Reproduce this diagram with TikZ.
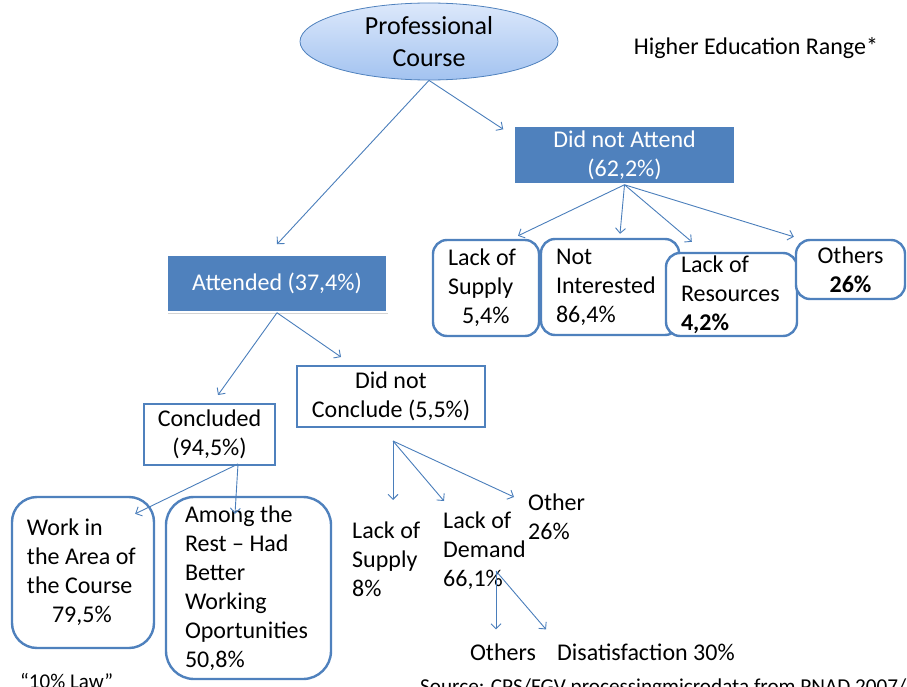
\documentclass[tikz,border=0pt]{standalone}
\usepackage{fontspec}
\setmainfont{Carlito}
\usepackage{tikz}
\usetikzlibrary{positioning,shapes,shadows,arrows.meta}

\definecolor{officeblue}{HTML}{4F81BD}
\definecolor{lineblue}{HTML}{4A7EBB}
\definecolor{ovaltop}{HTML}{DCE8FB}
\definecolor{ovalbottom}{HTML}{A3C3F0}

\begin{document}
\begin{tikzpicture}[
		x=1pt, y=-1pt,
		course/.style={ellipse, draw=officeblue, thick, top color=ovaltop, bottom color=ovalbottom, minimum width=258pt, minimum height=77pt, inner sep=0pt, align=center, font=\fontsize{26}{32}\selectfont},
		filled/.style={rectangle, draw=white, line width=1.5pt, fill=officeblue, text=white, align=center, drop shadow={shadow xshift=1pt, shadow yshift=-1.5pt, opacity=0.35}, font=\fontsize{24}{29}\selectfont},
		plain/.style={rectangle, draw=officeblue, line width=2pt, fill=white, align=center, font=\fontsize{24}{29}\selectfont},
		reason/.style={rectangle, rounded corners=14pt, draw=officeblue, line width=2.4pt, fill=white, align=flush left, inner xsep=15pt, inner ysep=0pt, font=\fontsize{24}{29}\selectfont},
		loose/.style={align=left, inner sep=0pt, font=\fontsize{24}{29}\selectfont},
		link/.style={draw=lineblue, line width=0.9pt, -{Straight Barb[length=5pt,width=10pt]}},
		]
		\useasboundingbox (0,0) rectangle (907,687);
		\clip (0,0) rectangle (907,687);

		%Main Nodes
		\node[course]	(course)	at (429,41.5)	{Professional\\Course};
		\node[loose]	(range)		at (756,48)		{Higher Education Range*};
		\node[filled, minimum width=221pt, minimum height=58pt]	(not_attend)	at (624.5,155)	{Did not Attend\\(62,2\%)};
		\node[filled, minimum width=220pt, minimum height=57pt]	(attended)		at (277,283.5)	{Attended (37,4\%)};

		%Main Lines
		\draw[link]	(course.south)	--	([yshift=10pt]attended.north);
		\draw[link]	(course.south)	--	([xshift=-10pt, yshift=-4pt]not_attend.north west);

		%Did not Attend
		\node[reason, minimum width=106pt, minimum height=96pt, text width=76pt]	(na_supply)		at (486,288)	{Lack of\\Supply\\\hspace*{14pt}5,4\%};
		\node[reason, minimum width=138pt, minimum height=96pt, text width=108pt]	(na_interest)	at (610,287)	{Not\\Interested\\86,4\%};
		\node[reason, minimum width=131pt, minimum height=83pt, text width=101pt]	(na_resources)	at (731.5,294.5)	{Lack of\\Resources\\\textbf{4,2\%}};
		\node[reason, align=center, minimum width=109pt, minimum height=59pt, text width=79pt]	(na_others)	at (850.5,269.5)	{Others\\\textbf{26\%}};
		\draw[link]	(not_attend.south)	--	([xshift=32pt, yshift=3pt]na_supply.north);
		\draw[link]	(not_attend.south)	--	([xshift=10pt, yshift=4pt]na_interest.north);
		\draw[link]	(not_attend.south)	--	([xshift=27pt, yshift=10pt]na_resources.north west);
		\draw[link]	(not_attend.south)	--	([xshift=-1pt, yshift=2pt]na_others.north west);

		%Attended
		\node[plain, minimum width=131pt, minimum height=61pt]	(concluded)		at (209.5,434.5)	{Concluded\\(94,5\%)};
		\node[plain, minimum width=188pt, minimum height=61pt]	(not_conclude)	at (391,396.5)		{Did not\\Conclude (5,5\%)};
		\draw[link]	(attended.south)	--	([xshift=8.5pt, yshift=8pt]concluded.north);
		\draw[link]	(attended.south)	--	([xshift=45pt, yshift=8pt]not_conclude.north west);

		%Concluded
		\node[reason, rounded corners=25pt, minimum width=142pt, minimum height=151pt, text width=112pt]	(work_area)	at (83,572.5)	{Work in\\the Area of\\the Course\\\hspace*{25pt}79,5\%};
		\node[reason, rounded corners=28pt, inner xsep=19pt, minimum width=165pt, minimum height=182pt, text width=127pt]	(among_rest)	at (248.5,588)	{Among the\\Rest -- Had\\Better\\Working\\Oportunities\\50,8\%};
		\coordinate	(concl_fork)	at ([xshift=28.5pt, yshift=2pt]concluded.south);
		\draw[link]	(concl_fork)	--	([xshift=-20pt, yshift=-18pt]work_area.north east);
		\draw[link]	(concl_fork)	--	([xshift=-13.5pt, yshift=-18pt]among_rest.north);

		%Did not Conclude
		\node[loose, anchor=west]	(nc_supply)		at (352,559.5)	{Lack of\\Supply\\8\%};
		\node[loose, anchor=west]	(nc_demand)		at (443,551)	{Lack of\\Demand\\66,1\%};
		\node[loose, anchor=west]	(nc_other)		at (528,517)	{Other\\26\%};
		\coordinate	(nc_fork)	at ([xshift=2pt, yshift=-13pt]not_conclude.south);
		\coordinate	(supply_tip)	at (393,500);
		\coordinate	(demand_tip)	at (444,501);
		\coordinate	(other_tip)		at (514,497);
		\draw[link]	(nc_fork)	--	(supply_tip);
		\draw[link]	(nc_fork)	--	(demand_tip);
		\draw[link]	(nc_fork)	--	(other_tip);

		%Lack of Demand
		\node[loose]				(dm_others)		at (503,652)	{Others};
		\node[loose, anchor=west]	(dm_dissat)		at (557,652)	{Disatisfaction 30\%};
		\coordinate	(dm_fork)	at (496,571);
		\draw[link]	(dm_fork)	--	([yshift=14pt]dm_others.north -| dm_fork);
		\draw[link]	(dm_fork)	--	([xshift=-11pt, yshift=14pt]dm_dissat.north west);

		%Notes
		\node[loose, anchor=base west, font=\fontsize{21}{25}\selectfont]	(law)		at (20,688)	{``10\% Law''};
		\node[loose, anchor=base west, font=\fontsize{21.2}{25}\selectfont]	(source)	at (420,693)	{Source: CPS/FGV processingmicrodata from PNAD 2007/2008};

	\end{tikzpicture}
\end{document}
